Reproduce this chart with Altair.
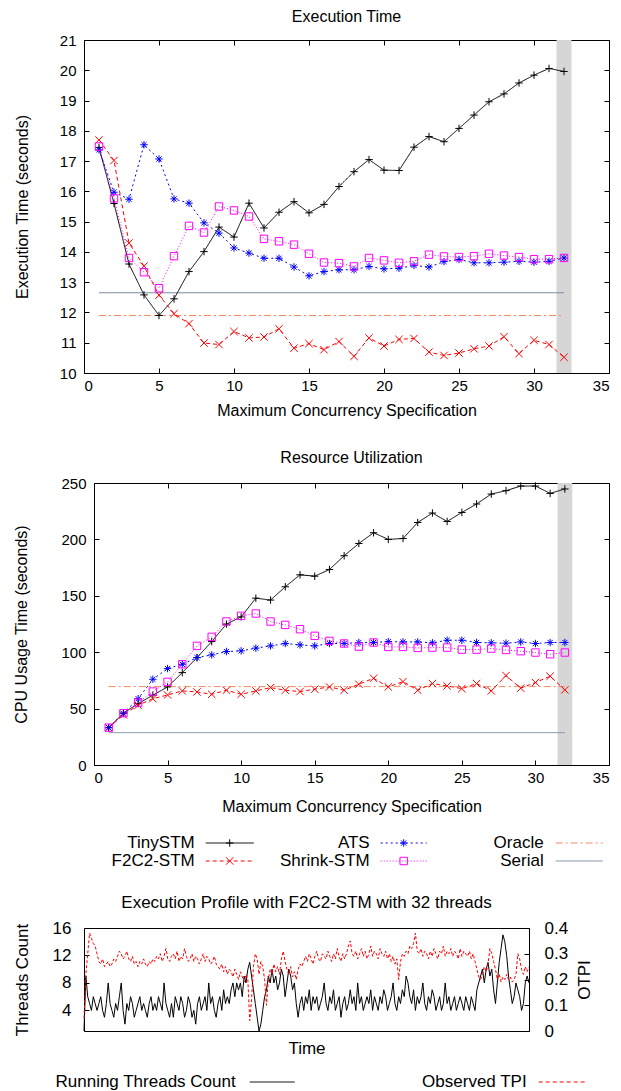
import altair as alt
import pandas as pd

FONT = "Liberation Sans"

# ---------------- data ----------------
threads = list(range(1, 33))

tiny_time = [17.45, 15.6, 13.6, 12.58, 11.9, 12.45, 13.35, 14.01, 14.82, 14.49, 15.61, 14.79,
             15.31, 15.66, 15.29, 15.57, 16.16, 16.65, 17.05, 16.7, 16.69, 17.46, 17.81, 17.64,
             18.08, 18.52, 18.96, 19.22, 19.58, 19.84, 20.06, 19.96]
f2c2_time = [17.7, 17.02, 14.29, 13.53, 12.57, 11.96, 11.63, 10.99, 10.94, 11.37, 11.16, 11.19,
             11.46, 10.82, 10.97, 10.77, 11.04, 10.55, 11.16, 10.89, 11.11, 11.14, 10.69, 10.58,
             10.66, 10.8, 10.89, 11.2, 10.64, 11.08, 10.94, 10.52]
ats_time = [17.37, 15.97, 15.74, 17.54, 17.07, 15.75, 15.61, 14.96, 14.62, 14.13, 13.96, 13.79,
            13.79, 13.5, 13.21, 13.35, 13.41, 13.41, 13.52, 13.44, 13.46, 13.55, 13.5, 13.68,
            13.75, 13.64, 13.64, 13.66, 13.69, 13.66, 13.69, 13.8]
shrink_time = [17.48, 15.77, 13.8, 13.33, 12.8, 13.86, 14.86, 14.64, 15.5, 15.37, 15.17, 14.43,
               14.35, 14.24, 13.94, 13.65, 13.63, 13.52, 13.8, 13.72, 13.64, 13.69, 13.91, 13.85,
               13.83, 13.86, 13.94, 13.88, 13.83, 13.76, 13.76, 13.8]
oracle_time = 11.9
serial_time = 12.65

tiny_cpu = [33.1, 45.9, 54.4, 61.9, 69.2, 81.9, 95.2, 109.4, 124.9, 131.3, 147.9, 146.2, 158.0,
            168.6, 167.4, 173.3, 185.5, 196.4, 205.9, 200.0, 200.8, 215.0, 223.4, 215.9, 223.9,
            231.4, 240.2, 243.2, 247.3, 247.3, 240.8, 244.7]
f2c2_cpu = [33.1, 44.4, 53.0, 58.8, 62.1, 65.7, 64.8, 62.7, 66.3, 62.7, 65.7, 68.6, 66.3, 65.1,
            67.2, 69.2, 66.3, 71.6, 76.9, 69.2, 73.9, 66.3, 72.2, 70.1, 67.7, 72.2, 65.7, 79.3,
            68.1, 73.1, 78.7, 66.6]
ats_cpu = [33.1, 45.9, 58.8, 76.0, 85.5, 89.3, 95.2, 97.6, 100.6, 101.2, 103.6, 105.6, 107.7,
           106.5, 105.6, 107.7, 107.7, 108.6, 108.6, 109.4, 109.1, 109.1, 108.3, 110.6, 110.6,
           108.6, 108.3, 108.0, 109.1, 107.7, 108.6, 108.6]
shrink_cpu = [33.1, 45.9, 55.3, 65.1, 73.7, 89.3, 105.6, 113.6, 127.2, 132.2, 134.3, 127.2, 124.2,
              120.4, 114.5, 110.0, 107.7, 105.0, 108.6, 104.7, 104.7, 103.8, 104.1, 104.1, 102.3,
              102.3, 103.2, 102.0, 100.9, 99.7, 98.2, 99.7]
oracle_cpu = 69.5
serial_cpu = 28.7

band_range = [31.5, 32.5]
ref_range = [1, 32]

running_threads = [
    1, 9, 6, 5, 4, 6, 5, 4, 5, 6, 4, 3, 5, 8, 5, 4, 3, 5, 4, 6,
    8, 4, 2, 5, 4, 6, 5, 3, 4, 5, 6, 4, 5, 4, 3, 5, 6, 4, 5, 4,
    6, 5, 4, 8, 5, 4, 3, 5, 3, 6, 5, 4, 6, 5, 3, 4, 6, 5, 3, 4,
    2, 5, 6, 4, 5, 6, 4, 8, 5, 6, 4, 3, 5, 6, 4, 7, 5, 6, 5, 7,
    8, 6, 8, 7, 8, 6, 9, 8, 10, 11, 9, 7, 5, 3, 1, 2, 4, 6, 7, 9,
    8, 10, 8, 9, 7, 8, 10, 9, 6, 8, 10, 9, 7, 8, 5, 3, 5, 6, 4, 6,
    5, 7, 4, 6, 5, 6, 4, 5, 6, 8, 5, 4, 6, 5, 7, 4, 5, 6, 3, 5,
    6, 4, 5, 7, 5, 6, 4, 8, 5, 6, 4, 5, 6, 5, 7, 4, 6, 5, 4, 6,
    5, 7, 6, 4, 5, 6, 8, 5, 4, 6, 5, 7, 6, 9, 8, 6, 5, 7, 4, 6,
    5, 6, 8, 5, 4, 6, 5, 7, 6, 4, 5, 6, 4, 5, 8, 5, 6, 4, 5, 6,
    4, 5, 6, 5, 4, 6, 5, 4, 6, 5, 4, 7, 8, 9, 10, 8, 10, 11, 9, 10,
    7, 5, 8, 11, 13, 15, 14, 12, 9, 7, 5, 6, 8, 7, 6, 4, 5, 8, 9, 8]
observed_tpi = [
    0.05, 0.22, 0.30, 0.38, 0.36, 0.34, 0.33, 0.30, 0.27, 0.26, 0.28, 0.25, 0.26, 0.27, 0.25, 0.26, 0.28, 0.27, 0.29, 0.31,
    0.30, 0.28, 0.29, 0.31, 0.28, 0.27, 0.29, 0.26, 0.27, 0.25, 0.27, 0.26, 0.28, 0.26, 0.25, 0.27, 0.26, 0.28, 0.27, 0.29,
    0.28, 0.30, 0.27, 0.29, 0.32, 0.28, 0.27, 0.29, 0.30, 0.28, 0.31, 0.27, 0.29, 0.28, 0.32, 0.29, 0.27, 0.28, 0.30, 0.27,
    0.29, 0.28, 0.26, 0.28, 0.30, 0.27, 0.29, 0.28, 0.26, 0.27, 0.29, 0.26, 0.25, 0.24, 0.26, 0.23, 0.25, 0.22, 0.24, 0.23,
    0.21, 0.24, 0.22, 0.20, 0.23, 0.21, 0.19, 0.22, 0.20, 0.04, 0.12, 0.25, 0.30, 0.28, 0.22, 0.27, 0.25, 0.20, 0.10, 0.20,
    0.24, 0.22, 0.26, 0.23, 0.25, 0.22, 0.28, 0.31, 0.27, 0.24, 0.22, 0.25, 0.21, 0.23, 0.20, 0.24, 0.26, 0.25, 0.27, 0.29,
    0.27, 0.30, 0.28, 0.26, 0.29, 0.31, 0.28, 0.27, 0.30, 0.29, 0.28, 0.31, 0.29, 0.27, 0.30, 0.28, 0.32, 0.29, 0.27, 0.30,
    0.28, 0.30, 0.33, 0.35, 0.30, 0.29, 0.31, 0.28, 0.30, 0.32, 0.29, 0.31, 0.28, 0.30, 0.33, 0.29, 0.31, 0.30, 0.28, 0.32,
    0.30, 0.29, 0.31, 0.28, 0.30, 0.27, 0.29, 0.26, 0.28, 0.20, 0.27, 0.30, 0.29, 0.31, 0.30, 0.33, 0.32, 0.34, 0.38, 0.31,
    0.30, 0.32, 0.29, 0.31, 0.30, 0.28, 0.31, 0.29, 0.32, 0.30, 0.28, 0.31, 0.30, 0.33, 0.29, 0.31, 0.30, 0.32, 0.29, 0.31,
    0.30, 0.28, 0.32, 0.29, 0.31, 0.30, 0.29, 0.31, 0.28, 0.30, 0.27, 0.24, 0.21, 0.20, 0.22, 0.25, 0.23, 0.26, 0.32, 0.30,
    0.27, 0.24, 0.20, 0.22, 0.19, 0.21, 0.20, 0.22, 0.20, 0.21, 0.19, 0.20, 0.22, 0.30, 0.28, 0.24, 0.22, 0.25, 0.23, 0.25]

# ---------------- styles ----------------
SERIES = ["TinySTM", "F2C2-STM", "ATS", "Shrink-STM"]
REFS = ["Oracle", "Serial"]
ALL = SERIES + REFS
COLORS = ["#000000", "#ff0000", "#0000ff", "#ff00ff", "#f58a5c", "#7a8ca3"]
DASHES = [[1, 0], [4, 3], [2, 3], [1, 2], [7, 3, 2, 3], [1, 0]]
SHAPES = ["M-1,0L1,0M0,-1L0,1",
          "M-1,-1L1,1M-1,1L1,-1",
          "M-1,0L1,0M0,-1L0,1M-0.7,-0.7L0.7,0.7M-0.7,0.7L0.7,-0.7",
          "M-1,-1L1,-1L1,1L-1,1Z"]
PSIZE = 55

color_scale = alt.Scale(domain=ALL, range=COLORS)
dash_scale = alt.Scale(domain=ALL, range=DASHES)
width_scale = alt.Scale(domain=ALL, range=[1, 1, 1, 1, 1.5, 1])
shape_scale = alt.Scale(domain=SERIES, range=SHAPES)

TICK = 5
NONE_VIEW = alt.ViewBackground(stroke="transparent")
FRAME_VIEW = alt.ViewBackground(stroke="black", strokeWidth=1)


def ax(orient, values=None, title=None, labels=True, fmt=None, lpad=8, tpad=10, angle=None,
       lfs=15, tfs=16):
    kw = dict(orient=orient, offset=-TICK, tickSize=TICK, tickColor="black", domain=False,
              grid=False, labels=labels, labelFont=FONT, labelFontSize=lfs, labelColor="black",
              labelPadding=lpad, titleFont=FONT, titleFontSize=tfs, titleFontWeight="normal",
              titleColor="black", titlePadding=tpad, title=title)
    if values is not None:
        kw["values"] = values
    if fmt is not None:
        kw["format"] = fmt
    if angle is not None:
        kw["titleAngle"] = angle
    return alt.Axis(**kw)


def perf_panel(vals, oracle, serial, ydom, yvals, ytitle, title, w, h, ytpad, xlpad, xtpad, toff):
    rows = []
    for name, arr in zip(SERIES, vals):
        for t, v in zip(threads, arr):
            rows.append({"threads": t, "value": v, "series": name})
    df = pd.DataFrame(rows)
    refdf = pd.DataFrame({"series": REFS, "x0": [ref_range[0]] * 2, "x1": [ref_range[1]] * 2,
                          "value": [oracle, serial]})
    banddf = pd.DataFrame({"lo": [band_range[0]], "hi": [band_range[1]],
                           "ylo": [ydom[0]], "yhi": [ydom[1]]})
    xs = alt.Scale(domain=[0, 35], nice=False, zero=False)
    ys = alt.Scale(domain=ydom, nice=False, zero=False)
    xv = list(range(0, 36, 5))

    band = alt.Chart(banddf).mark_rect(color="#d6d6d6").encode(
        x=alt.X("lo:Q", scale=xs, axis=ax("top", xv, labels=False)),
        x2="hi:Q",
        y=alt.Y("ylo:Q", scale=ys, axis=ax("right", yvals, labels=False)),
        y2="yhi:Q")
    refs = alt.Chart(refdf).mark_rule().encode(
        x=alt.X("x0:Q", scale=xs, axis=None),
        x2="x1:Q",
        y=alt.Y("value:Q", scale=ys, axis=None),
        color=alt.Color("series:N", scale=color_scale, legend=None),
        strokeDash=alt.StrokeDash("series:N", scale=dash_scale, legend=None),
        strokeWidth=alt.StrokeWidth("series:N", scale=width_scale, legend=None))
    lines = alt.Chart(df).mark_line(strokeWidth=1).encode(
        x=alt.X("threads:Q", scale=xs,
                axis=ax("bottom", xv, title="Maximum Concurrency Specification", lpad=xlpad,
                        tpad=xtpad)),
        y=alt.Y("value:Q", scale=ys, axis=ax("left", yvals, title=ytitle, lpad=8, tpad=ytpad)),
        color=alt.Color("series:N", scale=color_scale, legend=None),
        strokeDash=alt.StrokeDash("series:N", scale=dash_scale, legend=None))
    pts = alt.Chart(df).mark_point(filled=False, size=PSIZE, strokeWidth=1, opacity=1).encode(
        x=alt.X("threads:Q", scale=xs, axis=None),
        y=alt.Y("value:Q", scale=ys, axis=None),
        color=alt.Color("series:N", scale=color_scale, legend=None),
        shape=alt.Shape("series:N", scale=shape_scale, legend=None))
    return alt.layer(band, refs, lines, pts).resolve_axis(x="independent", y="independent").properties(
        width=w, height=h,
        title=alt.TitleParams(text=title, font=FONT, fontSize=16, fontWeight="normal",
                              color="black", offset=toff),
        view=FRAME_VIEW)


top = perf_panel([tiny_time, f2c2_time, ats_time, shrink_time], oracle_time, serial_time,
                 [10, 21], list(range(10, 22)), "Execution Time (seconds)", "Execution Time",
                 525, 333, 29, 5, 9, 8)
middle = perf_panel([tiny_cpu, f2c2_cpu, ats_cpu, shrink_cpu], oracle_cpu, serial_cpu,
                    [0, 250], list(range(0, 251, 50)), "CPU Usage Time (seconds)",
                    "Resource Utilization", 515, 282, 31, 5, 13, 10)

# shift the middle panel right of the common plot origin
mid_shift = alt.Chart(pd.DataFrame({"s": [0]})).mark_point(opacity=0).encode(
    x=alt.X("s:Q", axis=None), y=alt.Y("s:Q", axis=None)).properties(
    width=10, height=1, view=NONE_VIEW)
middle_row = alt.hconcat(mid_shift, middle, spacing=0, bounds="flush")

# ---------------- legends ----------------
LW = 520


def legend_chart(names, text_right, line0, line1, rows, height, cscale, dscale, wscale,
                 with_points):
    df = pd.DataFrame({"series": names, "tx": text_right, "x0": line0, "x1": line1,
                       "xm": [(a + b) / 2 for a, b in zip(line0, line1)], "ty": rows})
    lx = alt.Scale(domain=[0, LW], nice=False, zero=False)
    ly = alt.Scale(domain=[0, height], nice=False, zero=False, reverse=True)
    text = alt.Chart(df).mark_text(align="right", baseline="middle", font=FONT, fontSize=17,
                                   color="black").encode(
        x=alt.X("tx:Q", scale=lx, axis=None), y=alt.Y("ty:Q", scale=ly, axis=None),
        text="series:N")
    rules = alt.Chart(df).mark_rule().encode(
        x=alt.X("x0:Q", scale=lx, axis=None), x2="x1:Q",
        y=alt.Y("ty:Q", scale=ly, axis=None),
        color=alt.Color("series:N", scale=cscale, legend=None),
        strokeDash=alt.StrokeDash("series:N", scale=dscale, legend=None),
        strokeWidth=alt.StrokeWidth("series:N", scale=wscale, legend=None))
    layers = [text, rules]
    if with_points:
        p = alt.Chart(df).transform_filter(
            alt.FieldOneOfPredicate(field="series", oneOf=SERIES)
        ).mark_point(filled=False, size=PSIZE, strokeWidth=1, opacity=1).encode(
            x=alt.X("xm:Q", scale=lx, axis=None), y=alt.Y("ty:Q", scale=ly, axis=None),
            color=alt.Color("series:N", scale=color_scale, legend=None),
            shape=alt.Shape("series:N", scale=shape_scale, legend=None))
        layers.append(p)
    return alt.layer(*layers).properties(width=LW, height=height, view=NONE_VIEW)


legend1 = legend_chart(["TinySTM", "F2C2-STM", "ATS", "Shrink-STM", "Oracle", "Serial"],
                       [110.7, 110.7, 285.7, 285.7, 459.7, 459.7],
                       [121.7, 121.7, 296.7, 296.7, 471.7, 471.7],
                       [169.7, 169.7, 342.7, 342.7, 518.7, 518.7],
                       [27, 45, 27, 45, 27, 45], 76, color_scale, dash_scale, width_scale, True)

PROFILE = ["Running Threads Count", "Observed TPI"]
prof_colors = alt.Scale(domain=PROFILE, range=["#000000", "#ff0000"])
prof_dash = alt.Scale(domain=PROFILE, range=[[1, 0], [3, 2]])
prof_width = alt.Scale(domain=PROFILE, range=[1, 1])
legend2 = legend_chart(PROFILE, [151.7, 442.7], [165.7, 454.7], [210.7, 501.7], [24, 24], 30,
                       prof_colors, prof_dash, prof_width, False)

spacer = alt.Chart(pd.DataFrame({"s": [0]})).mark_point(opacity=0).encode(
    x=alt.X("s:Q", axis=None), y=alt.Y("s:Q", axis=None)).properties(
    width=10, height=28, view=NONE_VIEW)

# ---------------- execution profile ----------------
prof = pd.DataFrame({"t": list(range(len(running_threads))), "threads": running_threads,
                     "tpi": observed_tpi})
ts = alt.Scale(domain=[0, len(running_threads) - 1], nice=False, zero=False)
black = alt.Chart(prof).mark_line(color="black", strokeWidth=1).encode(
    x=alt.X("t:Q", scale=ts, axis=alt.Axis(title="Time", labels=False, ticks=False, domain=True,
                                            domainColor="black", grid=False, titleFont=FONT,
                                            titleFontSize=17, titleFontWeight="normal",
                                            titleColor="black", titlePadding=9)),
    y=alt.Y("threads:Q", scale=alt.Scale(domain=[1, 16], nice=False, zero=False),
            axis=ax("left", [4, 8, 12, 16], title="Threads Count", lpad=13, tpad=21,
                    lfs=17, tfs=17)))
red = alt.Chart(prof).mark_line(color="#ff0000", strokeDash=[3, 2], strokeWidth=1).encode(
    x=alt.X("t:Q", scale=ts, axis=None),
    y=alt.Y("tpi:Q", scale=alt.Scale(domain=[0, 0.4], nice=False, zero=False),
            axis=ax("right", [0, 0.1, 0.2, 0.3, 0.4], title="OTPI", fmt=".1~f", lpad=15,
                    tpad=26, angle=270, lfs=17, tfs=17)))
bottom = alt.layer(black, red).resolve_scale(y="independent").resolve_axis(
    x="independent", y="independent").properties(
    width=445, height=103,
    title=alt.TitleParams(text="Execution Profile with F2C2-STM with 32 threads", font=FONT,
                          fontSize=17, fontWeight="normal", color="black", offset=7),
    view=FRAME_VIEW)

chart = alt.concat(top, spacer, middle_row, legend1, bottom, legend2, columns=1, spacing=0,
                   align="none").properties(
    padding={"left": 4, "top": 0, "right": 0, "bottom": 0}
).configure_view(stroke="transparent")

chart.save("out.html", embed_options={"renderer": "svg", "actions": False})
